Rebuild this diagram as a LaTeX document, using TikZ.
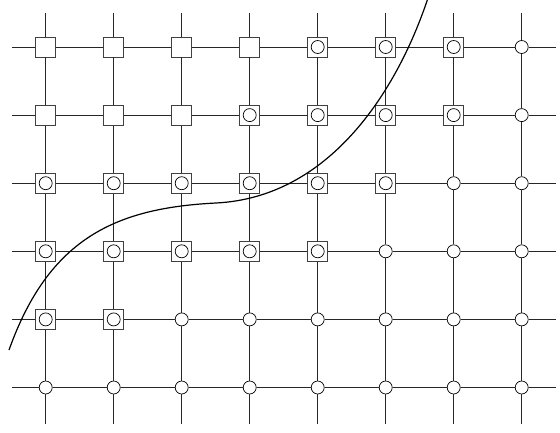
\documentclass[tikz,border=0pt]{standalone}
\begin{document}
\begin{tikzpicture}[x=1pt,y=-1pt,
  sq/.style={rectangle, draw=black!75, fill=white, minimum size=20pt, inner sep=0pt, line width=0.9pt},
  ci/.style={circle, draw=black, fill=white, minimum size=13pt, inner sep=0pt, line width=0.7pt},
  gridline/.style={line width=0.7pt, black!85},
  curveline/.style={line width=1.2pt, black}]
\useasboundingbox (0,0) rectangle (560,432);
% nodes
\foreach \r/\e/\s in {1/4/7,2/3/7,3/0/6,4/0/5,5/0/2,6/0/0} {
  \foreach \c in {1,...,8} {
    \pgfmathsetmacro\X{45.7+68*(\c-1)}
    \pgfmathsetmacro\Y{47+68.1*(\r-1)}
    \ifnum\c>\s
      \node[ci] (n\r\c) at (\X,\Y) {};
    \else
      \node[sq] (n\r\c) at (\X,\Y) {};
      \ifnum\c>\e
        \node[ci] (m\r\c) at (n\r\c) {};
      \fi
    \fi
  }
}
% free ends
\foreach \r in {1,...,6} {
  \pgfmathsetmacro\Y{47+68.1*(\r-1)}
  \coordinate (L\r) at (11.7,\Y);
  \coordinate (R\r) at (556,\Y);
}
\foreach \c in {1,...,8} {
  \pgfmathsetmacro\X{45.7+68*(\c-1)}
  \coordinate (T\c) at (\X,13);
  \coordinate (B\c) at (\X,424);
}
% horizontal lines
\foreach \r in {1,...,6} {
  \draw[gridline] (L\r) -- (n\r1);
  \draw[gridline] (n\r8) -- (R\r);
  \foreach \c [evaluate=\c as \d using int(\c+1)] in {1,...,7}
    \draw[gridline] (n\r\c) -- (n\r\d);
}
% vertical lines
\foreach \c in {1,...,8} {
  \draw[gridline] (T\c) -- (n1\c);
  \draw[gridline] (n6\c) -- (B\c);
  \foreach \r [evaluate=\r as \q using int(\r+1)] in {1,...,5}
    \draw[gridline] (n\r\c) -- (n\q\c);
}
% curve
\draw[curveline] (9,350) .. controls (49,238) and (116,208) .. (216,203)
  .. controls (328,197.4) and (396,94) .. (428,-2);
\end{tikzpicture}
\end{document}
